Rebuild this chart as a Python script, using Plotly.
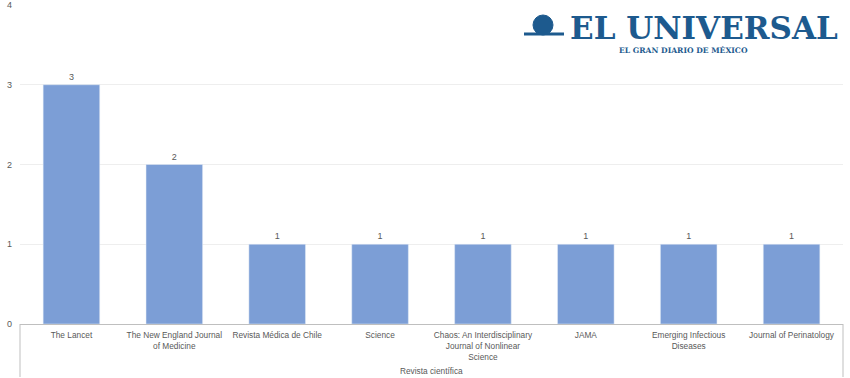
import plotly.graph_objects as go

categories = ["The Lancet", "The New England Journal<br>of Medicine", "Revista Médica de Chile",
              "Science", "Chaos: An Interdisciplinary<br>Journal of Nonlinear<br>Science", "JAMA",
              "Emerging Infectious<br>Diseases", "Journal of Perinatology"]
values = [3, 2, 1, 1, 1, 1, 1, 1]
y_ticks = [0, 1, 2, 3, 4]
x_title = "Revista científica"

W, H = 850, 378
ml, mr, mt, mb = 20, 7, 5, 54
ph = H - mt - mb
pw = W - ml - mr

def py(pix):
    return (H - mb - pix) / ph

def px(pix):
    return (pix - ml) / pw

gray = "#595959"
fig = go.Figure(go.Bar(
    x=list(range(len(categories))), y=values, marker_color="#7C9ED6",
    text=[str(v) for v in values], textposition="outside",
    textfont=dict(size=9, color=gray), cliponaxis=False,
))
fig.update_layout(
    width=W, height=H, margin=dict(l=ml, r=mr, t=mt, b=mb, autoexpand=False),
    plot_bgcolor="white", paper_bgcolor="white", bargap=0.45,
    font=dict(family="Liberation Sans, Arial", size=9, color=gray),
    showlegend=False,
)
fig.update_xaxes(tickvals=list(range(len(categories))), ticktext=categories,
                 range=[-0.5, len(categories) - 0.5], showline=True, linecolor="#bfbfbf",
                 linewidth=1, ticks="", tickfont=dict(size=8.3, color=gray), showgrid=False,
                 ticklabelstandoff=3, automargin=False)
fig.update_yaxes(range=[0, 4], tickvals=y_ticks, showgrid=True, gridcolor="#eeeeee",
                 zeroline=False, tickfont=dict(size=9, color=gray), ticklabelstandoff=7,
                 automargin=False)

# category box lines
for xp in [0, 1]:
    fig.add_shape(type="line", xref="paper", yref="paper", x0=xp, x1=xp, y0=0, y1=py(377),
                  line=dict(color="#bfbfbf", width=1))

fig.add_annotation(text=x_title, xref="paper", yref="paper", x=0.5, y=py(371),
                   showarrow=False, font=dict(size=8.3, color=gray), yanchor="middle",
                   xanchor="center")

# logo
logo_blue = "#1D5A8E"
fig.add_annotation(text="<b>EL UNIVERSAL</b>", xref="paper", yref="paper",
                   x=px(704), y=py(28), showarrow=False, xanchor="center",
                   font=dict(family="DejaVu Serif", size=31, color=logo_blue), yanchor="middle")
fig.add_annotation(text="<b>EL GRAN DIARIO DE MÉXICO</b>", xref="paper", yref="paper",
                   x=px(683), y=py(50), showarrow=False, xanchor="center",
                   font=dict(family="DejaVu Serif", size=7.6, color=logo_blue), yanchor="middle")
fig.add_shape(type="circle", xref="paper", yref="paper",
              x0=px(533), x1=px(553), y0=py(35), y1=py(15),
              fillcolor=logo_blue, line=dict(color=logo_blue, width=1))
fig.add_shape(type="line", xref="paper", yref="paper",
              x0=px(524), x1=px(564), y0=py(34), y1=py(34),
              line=dict(color=logo_blue, width=3))

fig.write_html("out.html")
